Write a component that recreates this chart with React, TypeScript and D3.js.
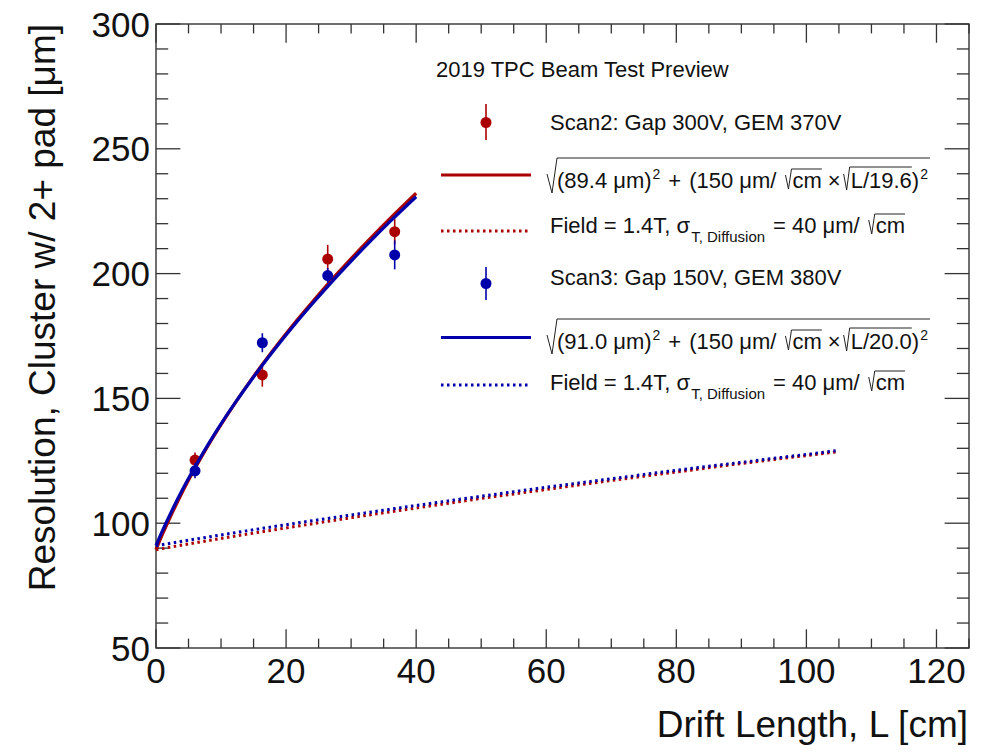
import React from 'react';
import * as d3 from 'd3';

const W = 984;
const H = 753;
const FRAME = { left: 156, right: 969, top: 24, bottom: 648 };
const FONT = "'Liberation Sans', Arial, Helvetica, sans-serif";
const RED = '#aa0000';
const BLUE = '#0000aa';
const AXIS = '#333333';

// axis settings
const xDomain = [0, 125];
const yDomain = [50, 300];
const xMajorTicks = [0, 20, 40, 60, 80, 100, 120];
const yMajorTicks = [50, 100, 150, 200, 250, 300];
const xMinorStep = 5;
const yMinorStep = 10;

// measured points
const driftL = [6.0, 16.35, 26.4, 36.7];
const scan2Res = [125.3, 159.4, 205.8, 216.8];
const scan2Err = [3.0, 4.7, 5.7, 5.0];
const scan3Res = [121.0, 172.3, 199.2, 207.5];
const scan3Err = [3.0, 3.8, 3.0, 5.8];

// fitted curves
const fitL = [0, 1, 2, 3, 4, 6, 8, 10, 12, 15, 18, 21, 24, 27, 30, 33, 36, 40];
const scan2Fit = [89.4, 95.6, 101.4, 106.9, 112.2, 122.0, 131.1, 139.5, 147.5, 158.8, 169.3, 179.2, 188.5, 197.5, 206.0, 214.2, 222.1, 232.2];
const scan3Fit = [91.0, 97.0, 102.6, 108.0, 113.1, 122.6, 131.5, 139.8, 147.6, 158.6, 168.9, 178.6, 187.8, 196.6, 205.0, 213.1, 220.9, 230.8];

// diffusion expectation curves
const diffL = [0, 10, 20, 30, 40, 50, 60, 70, 80, 90, 104.5];
const scan2Diff = [89.4, 93.9, 98.1, 102.2, 106.1, 109.9, 113.5, 117.1, 120.5, 123.9, 128.5];
const scan3Diff = [91.0, 95.3, 99.4, 103.3, 107.1, 110.8, 114.4, 117.8, 121.2, 124.4, 129.0];

// legend texts
const legendTitle = '2019 TPC Beam Test Preview';
const scan2Label = 'Scan2: Gap 300V, GEM 370V';
const scan3Label = 'Scan3: Gap 150V, GEM 380V';
const scan2Sigma = '89.4';
const scan2N = '19.6';
const scan3Sigma = '91.0';
const scan3N = '20.0';

let _ctx: CanvasRenderingContext2D | null = null;
function tw(s: string, size: number): number {
  if (!_ctx) {
    const c = document.createElement('canvas');
    _ctx = c.getContext('2d');
  }
  if (!_ctx) return s.length * size * 0.55;
  _ctx.font = `${size}px ${FONT}`;
  return _ctx.measureText(s).width;
}

function FitFormula({ x0, b, sigma, n }: { x0: number; b: number; sigma: string; n: string }) {
  const fs = 22;
  const sup = 14;
  const els: React.ReactNode[] = [];
  let x = x0;
  const radStart = x;
  x += 10;
  const overStart = x;
  const s1 = `(${sigma} μm)`;
  els.push(<text key="s1" x={x} y={b}>{s1}</text>);
  x += tw(s1, fs) + 1;
  els.push(<text key="p1" x={x} y={b - 9} fontSize={sup}>2</text>);
  x += tw('2', sup) + 8;
  els.push(<text key="plus" x={x} y={b}>+</text>);
  x += tw('+', fs) + 8;
  const s2 = '(150 μm/';
  els.push(<text key="s2" x={x} y={b}>{s2}</text>);
  x += tw(s2, fs) + 9;
  const cmW = tw('cm', fs);
  els.push(<path key="r1" d={`M${x},${b - 13} L${x + 3},${b + 1} L${x + 6},${b - 19} L${x + 7 + cmW},${b - 19}`} fill="none" stroke="#222" strokeWidth={1} />);
  x += 7;
  els.push(<text key="cm" x={x} y={b}>cm</text>);
  x += cmW + 6;
  els.push(<text key="times" x={x} y={b}>×</text>);
  x += tw('×', fs) + 3;
  const s3 = `L/${n}`;
  const s3W = tw(s3, fs);
  els.push(<path key="r2" d={`M${x},${b - 14} L${x + 3},${b + 2} L${x + 6},${b - 21} L${x + 7 + s3W},${b - 21}`} fill="none" stroke="#222" strokeWidth={1} />);
  x += 7;
  els.push(<text key="s3" x={x} y={b}>{s3}</text>);
  x += s3W;
  els.push(<text key="cl" x={x} y={b}>)</text>);
  x += tw(')', fs) + 1;
  els.push(<text key="p2" x={x} y={b - 9} fontSize={sup}>2</text>);
  x += tw('2', sup) + 2;
  els.push(<path key="big" d={`M${radStart},${b - 14} L${radStart + 5},${b + 5} L${overStart},${b - 30} L${x},${b - 30}`} fill="none" stroke="#222" strokeWidth={1} />);
  return <g fontSize={fs} fill="#111">{els}</g>;
}

function FieldLabel({ x0, b }: { x0: number; b: number }) {
  const fs = 22;
  const sub = 15;
  let x = x0;
  const els: React.ReactNode[] = [];
  const s1 = 'Field = 1.4T, σ';
  els.push(<text key="s1" x={x} y={b}>{s1}</text>);
  x += tw(s1, fs) + 1;
  const s2 = 'T, Diffusion';
  els.push(<text key="s2" x={x} y={b + 9} fontSize={sub}>{s2}</text>);
  x += tw(s2, sub) + 8;
  const s3 = '= 40 μm/';
  els.push(<text key="s3" x={x} y={b}>{s3}</text>);
  x += tw(s3, fs) + 9;
  const cmW = tw('cm', fs);
  els.push(<path key="r" d={`M${x},${b - 13} L${x + 3},${b + 1} L${x + 6},${b - 19} L${x + 7 + cmW},${b - 19}`} fill="none" stroke="#222" strokeWidth={1} />);
  x += 7;
  els.push(<text key="cm" x={x} y={b}>cm</text>);
  return <g fontSize={fs} fill="#111">{els}</g>;
}

export default function App() {
  const x = d3.scaleLinear().domain(xDomain).range([FRAME.left, FRAME.right]);
  const y = d3.scaleLinear().domain(yDomain).range([FRAME.bottom, FRAME.top]);

  const xMinor = d3.range(xDomain[0], xDomain[1] + 0.001, xMinorStep).filter((v) => !xMajorTicks.includes(v));
  const yMinor = d3.range(yDomain[0], yDomain[1] + 0.001, yMinorStep).filter((v) => !yMajorTicks.includes(v));

  const line = d3
    .line<[number, number]>()
    .x((d) => x(d[0]))
    .y((d) => y(d[1]))
    .curve(d3.curveMonotoneX);

  const series = (xs: number[], ys: number[]) => xs.map((v, i) => [v, ys[i]] as [number, number]);

  const xMajLen = 18.7;
  const xMinLen = 9.4;
  const yMajLen = 24.4;
  const yMinLen = 12.2;

  const points = (vals: number[], errs: number[], color: string) =>
    driftL.map((l, i) => (
      <g key={i}>
        <line x1={x(l)} x2={x(l)} y1={y(vals[i] - errs[i])} y2={y(vals[i] + errs[i])} stroke={color} strokeWidth={1.6} />
        <circle cx={x(l)} cy={y(vals[i])} r={5.5} fill={color} />
      </g>
    ));

  return (
    <svg width={W} height={H} style={{ position: 'absolute', left: 0, top: 0, background: '#fff' }} fontFamily={FONT}>
      <rect x={0} y={0} width={W} height={H} fill="#fff" />
      {/* frame */}
      <rect x={FRAME.left} y={FRAME.top} width={FRAME.right - FRAME.left} height={FRAME.bottom - FRAME.top} fill="none" stroke={AXIS} strokeWidth={1.4} />
      {/* x ticks */}
      {xMajorTicks.map((t) => (
        <g key={'xm' + t}>
          <line x1={x(t)} x2={x(t)} y1={FRAME.bottom} y2={FRAME.bottom - xMajLen} stroke={AXIS} strokeWidth={1.3} />
          <line x1={x(t)} x2={x(t)} y1={FRAME.top} y2={FRAME.top + xMajLen} stroke={AXIS} strokeWidth={1.3} />
          <text x={x(t)} y={683} textAnchor="middle" fontSize={35} fill="#111">{t}</text>
        </g>
      ))}
      {xMinor.map((t) => (
        <g key={'xn' + t}>
          <line x1={x(t)} x2={x(t)} y1={FRAME.bottom} y2={FRAME.bottom - xMinLen} stroke={AXIS} strokeWidth={1.3} />
          <line x1={x(t)} x2={x(t)} y1={FRAME.top} y2={FRAME.top + xMinLen} stroke={AXIS} strokeWidth={1.3} />
        </g>
      ))}
      {/* y ticks */}
      {yMajorTicks.map((t) => (
        <g key={'ym' + t}>
          <line x1={FRAME.left} x2={FRAME.left + yMajLen} y1={y(t)} y2={y(t)} stroke={AXIS} strokeWidth={1.3} />
          <line x1={FRAME.right} x2={FRAME.right - yMajLen} y1={y(t)} y2={y(t)} stroke={AXIS} strokeWidth={1.3} />
          <text x={150} y={y(t) + 12.5} textAnchor="end" fontSize={35} fill="#111">{t}</text>
        </g>
      ))}
      {yMinor.map((t) => (
        <g key={'yn' + t}>
          <line x1={FRAME.left} x2={FRAME.left + yMinLen} y1={y(t)} y2={y(t)} stroke={AXIS} strokeWidth={1.3} />
          <line x1={FRAME.right} x2={FRAME.right - yMinLen} y1={y(t)} y2={y(t)} stroke={AXIS} strokeWidth={1.3} />
        </g>
      ))}
      {/* axis titles */}
      <text x={968} y={737} textAnchor="end" fontSize={37} fill="#111">Drift Length, L [cm]</text>
      <text transform="translate(55,24) rotate(-90)" textAnchor="end" fontSize={37} fill="#111">Resolution, Cluster w/ 2+ pad [μm]</text>

      {/* scan2 */}
      {points(scan2Res, scan2Err, RED)}
      <path d={line(series(fitL, scan2Fit)) || ''} fill="none" stroke={RED} strokeWidth={3.2} />
      <path d={line(series(diffL, scan2Diff)) || ''} fill="none" stroke={RED} strokeWidth={3} strokeDasharray="2.5 3.5" />
      {/* scan3 */}
      {points(scan3Res, scan3Err, BLUE)}
      <path d={line(series(fitL, scan3Fit)) || ''} fill="none" stroke={BLUE} strokeWidth={3.2} />
      <path d={line(series(diffL, scan3Diff)) || ''} fill="none" stroke={BLUE} strokeWidth={3} strokeDasharray="2.5 3.5" />

      {/* legend */}
      <text x={436} y={77} fontSize={22} fill="#111">{legendTitle}</text>
      <line x1={486} x2={486} y1={104} y2={140} stroke={RED} strokeWidth={1.6} />
      <circle cx={486} cy={122.5} r={5.5} fill={RED} />
      <text x={550} y={130} fontSize={22} fill="#111">{scan2Label}</text>
      <line x1={441} x2={531} y1={175} y2={175} stroke={RED} strokeWidth={3.2} />
      <FitFormula x0={547} b={188} sigma={scan2Sigma} n={scan2N} />
      <line x1={441} x2={531} y1={231} y2={231} stroke={RED} strokeWidth={3} strokeDasharray="2.5 3.5" />
      <FieldLabel x0={550} b={233} />

      <line x1={486} x2={486} y1={267} y2={300} stroke={BLUE} strokeWidth={1.6} />
      <circle cx={486} cy={283.5} r={5.5} fill={BLUE} />
      <text x={550} y={285} fontSize={22} fill="#111">{scan3Label}</text>
      <line x1={441} x2={531} y1={337.5} y2={337.5} stroke={BLUE} strokeWidth={3.2} />
      <FitFormula x0={547} b={349} sigma={scan3Sigma} n={scan3N} />
      <line x1={441} x2={531} y1={385} y2={385} stroke={BLUE} strokeWidth={3} strokeDasharray="2.5 3.5" />
      <FieldLabel x0={550} b={390} />
    </svg>
  );
}
